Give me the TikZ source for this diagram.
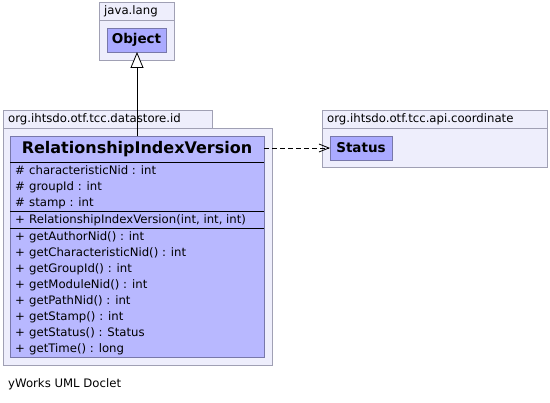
\documentclass[tikz,border=0pt]{standalone}
\usepackage{fontspec}
\setmainfont{DejaVu Sans}
\usetikzlibrary{arrows.meta}
\definecolor{pkgfill}{RGB}{238,238,252}
\definecolor{pkgdraw}{RGB}{160,160,180}
\definecolor{clsfill}{RGB}{184,184,255}
\definecolor{clsfill2}{RGB}{170,170,255}
\definecolor{clsdraw}{RGB}{120,120,170}
\tikzset{
  pkg/.style={draw=pkgdraw, fill=pkgfill, line width=0.8pt},
  cls/.style={draw=clsdraw, fill=clsfill, line width=0.8pt},
  sep/.style={draw=black, line width=0.8pt},
  txt/.style={anchor=base west, inner sep=0pt, font=\fontsize{11.7}{13}\selectfont},
  btxt/.style={inner sep=0pt, font=\fontsize{13.5}{15}\selectfont\bfseries},
}
\begin{document}
\begin{tikzpicture}[x=1pt,y=-1pt]
\useasboundingbox (0,0) rectangle (550,403);
% java.lang package
\draw[pkg] (99,2) rectangle (174,20);
\draw[pkg] (99,20) rectangle (174,60);
\node[txt] (jl) at (104,15) {java.lang};
\draw[cls, fill=clsfill2] (107,28) rectangle (166,52);
\node[btxt] (obj) at (136.5,40) {Object};
\coordinate (objb) at (137,52);
% datastore package
\draw[pkg] (3,110) rectangle (212,128);
\draw[pkg] (3,128) rectangle (272,365);
\node[txt] (dsl) at (8,123) {org.ihtsdo.otf.tcc.datastore.id};
\draw[cls] (10,136) rectangle (264,357);
\coordinate (rivt) at (137,136);
\coordinate (rivr) at (264,148);
\node[btxt, font=\fontsize{16}{18}\selectfont\bfseries] (riv) at (137,149) {RelationshipIndexVersion};
\draw[sep] (10,162) -- (264,162);
\draw[sep] (10,211) -- (264,211);
\draw[sep] (10,228.5) -- (264,228.5);
\foreach \t [count=\i from 0] in {characteristicNid : int, groupId : int, stamp : int}{
  \node[txt] at (15,175+16*\i) {\#};
  \node[txt] at (29,175+16*\i) {\t};
}
\node[txt] at (15,224) {+};
\node[txt] at (29,224) {RelationshipIndexVersion(int, int, int)};
\foreach \t [count=\i from 0] in {getAuthorNid() : int, getCharacteristicNid() : int, getGroupId() : int, getModuleNid() : int, getPathNid() : int, getStamp() : int, getStatus() : Status, getTime() : long}{
  \node[txt] at (15,241+16*\i) {+};
  \node[txt] at (29,241+16*\i) {\t};
}
% coordinate package
\draw[pkg] (322,110) rectangle (547,128);
\draw[pkg] (322,128) rectangle (547,167);
\node[txt] (cpl) at (327,123) {org.ihtsdo.otf.tcc.api.coordinate};
\draw[cls, fill=clsfill2] (330,136) rectangle (392,160);
\node[btxt] (st) at (361,148) {Status};
\coordinate (stl) at (330,148);
% connectors
\draw[line width=0.8pt, -{Triangle[open, length=16pt, width=13pt, fill=white]}] (rivt) -- (objb);
\draw[line width=0.8pt, dash pattern=on 5pt off 3pt, -{Straight Barb[length=10pt, width=8pt]}] (rivr) -- (stl);
\node[txt] (yw) at (8,388) {yWorks UML Doclet};
\end{tikzpicture}
\end{document}
